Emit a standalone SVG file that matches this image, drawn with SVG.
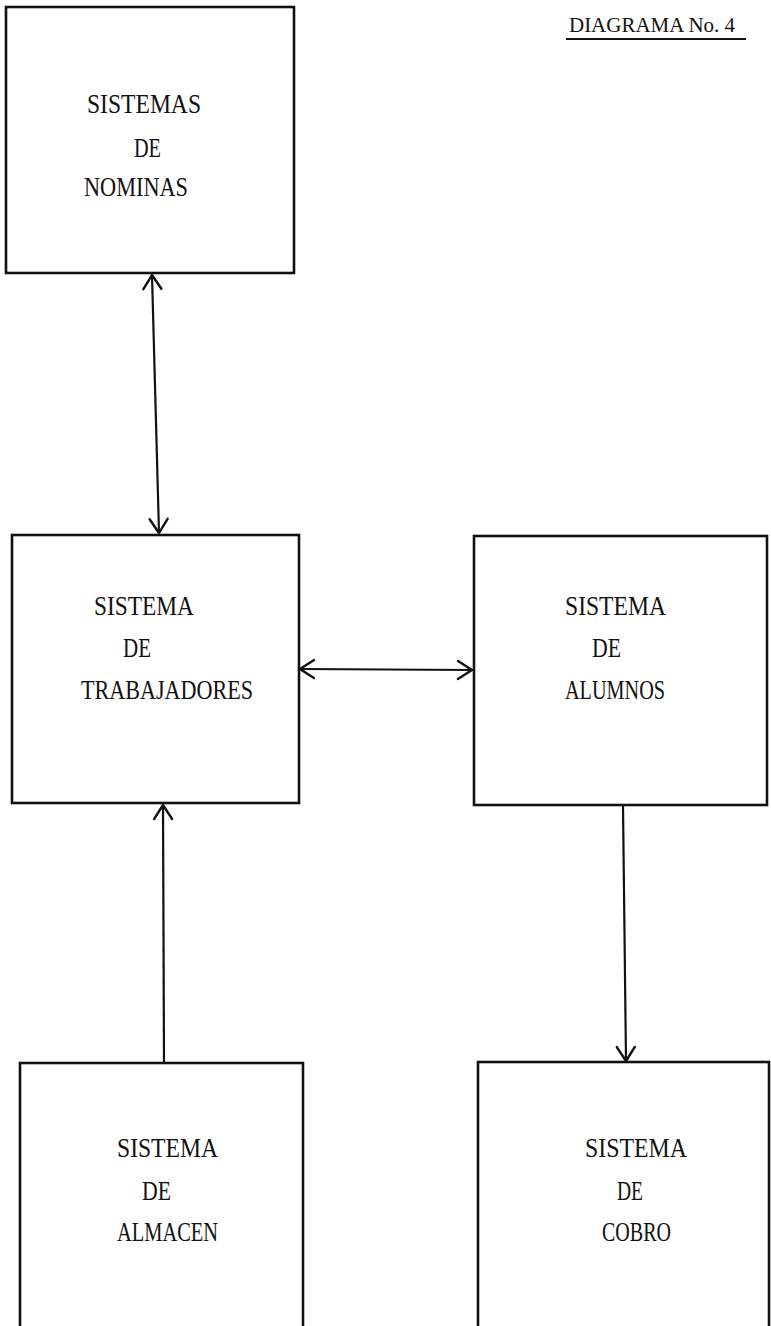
<svg xmlns="http://www.w3.org/2000/svg" width="771" height="1326" viewBox="0 0 771 1326">
<style>
.box{fill:none;stroke:#111;stroke-width:2.6}
.lbl{font-family:"Liberation Serif","DejaVu Serif",serif;font-size:27px;fill:#111}
.title{font-family:"Liberation Serif","DejaVu Serif",serif;font-size:22px;fill:#111}
.con{fill:none;stroke:#111;stroke-width:2.2}
</style>
<defs>
<marker id="arr" viewBox="-16 -12 18 24" markerWidth="18" markerHeight="24" refX="0" refY="0" markerUnits="userSpaceOnUse" orient="auto-start-reverse">
<path d="M -14 -9 L 0 0 L -14 9" fill="none" stroke="#111" stroke-width="2.4" stroke-linecap="round" stroke-linejoin="round"/>
</marker>
</defs>
<rect width="771" height="1326" fill="#fff"/>
<g id="title">
<text class="title" x="569" y="32" textLength="166" lengthAdjust="spacingAndGlyphs">DIAGRAMA No. 4</text>
<line x1="566" y1="39" x2="746" y2="39" stroke="#111" stroke-width="2"/>
</g>
<g id="nominas">
<rect class="box" x="6" y="7" width="288" height="266"/>
<text class="lbl" x="87" y="113" textLength="114" lengthAdjust="spacingAndGlyphs">SISTEMAS</text>
<text class="lbl" x="134" y="157" textLength="27" lengthAdjust="spacingAndGlyphs">DE</text>
<text class="lbl" x="84" y="196" textLength="104" lengthAdjust="spacingAndGlyphs">NOMINAS</text>
</g>
<g id="trabajadores">
<rect class="box" x="12" y="535" width="287" height="268"/>
<text class="lbl" x="94" y="615" textLength="100" lengthAdjust="spacingAndGlyphs">SISTEMA</text>
<text class="lbl" x="123" y="657" textLength="28" lengthAdjust="spacingAndGlyphs">DE</text>
<text class="lbl" x="81" y="699" textLength="172" lengthAdjust="spacingAndGlyphs">TRABAJADORES</text>
</g>
<g id="alumnos">
<rect class="box" x="474" y="536" width="293" height="269"/>
<text class="lbl" x="565" y="615" textLength="101" lengthAdjust="spacingAndGlyphs">SISTEMA</text>
<text class="lbl" x="592" y="657" textLength="29" lengthAdjust="spacingAndGlyphs">DE</text>
<text class="lbl" x="565" y="699" textLength="100" lengthAdjust="spacingAndGlyphs">ALUMNOS</text>
</g>
<g id="almacen">
<rect class="box" x="20" y="1063" width="283" height="300"/>
<text class="lbl" x="117" y="1157" textLength="101" lengthAdjust="spacingAndGlyphs">SISTEMA</text>
<text class="lbl" x="142" y="1200" textLength="29" lengthAdjust="spacingAndGlyphs">DE</text>
<text class="lbl" x="117" y="1241" textLength="101" lengthAdjust="spacingAndGlyphs">ALMACEN</text>
</g>
<g id="cobro">
<rect class="box" x="478" y="1062" width="291" height="300"/>
<text class="lbl" x="585" y="1157" textLength="102" lengthAdjust="spacingAndGlyphs">SISTEMA</text>
<text class="lbl" x="617" y="1200" textLength="26" lengthAdjust="spacingAndGlyphs">DE</text>
<text class="lbl" x="602" y="1241" textLength="69" lengthAdjust="spacingAndGlyphs">COBRO</text>
</g>
<g id="connectors">
<line class="con" x1="152" y1="275" x2="159" y2="533" marker-start="url(#arr)" marker-end="url(#arr)"/>
<line class="con" x1="300" y1="669" x2="472" y2="670" marker-start="url(#arr)" marker-end="url(#arr)"/>
<line class="con" x1="164" y1="1062" x2="163" y2="805" marker-end="url(#arr)"/>
<line class="con" x1="623" y1="806" x2="626" y2="1061" marker-end="url(#arr)"/>
</g>
</svg>
